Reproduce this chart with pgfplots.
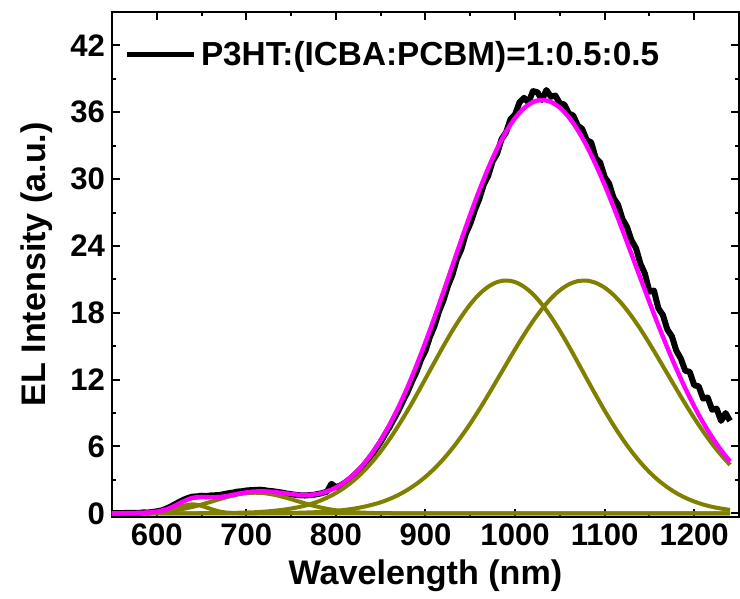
\documentclass[border=0pt]{standalone}
\usepackage{fontspec}
\setmainfont{Liberation Sans}
\usepackage{pgfplots}
\pgfplotsset{compat=1.18}
\definecolor{fitolive}{HTML}{808000}
\definecolor{fitpink}{HTML}{FF00FF}

\begin{document}
\begin{tikzpicture}
\begin{axis}[
    width=312.5pt, height=251.5pt, scale only axis,
    xmin=550, xmax=1250, ymin=-0.3, ymax=45,
    xtick={600,700,...,1200}, ytick={0,6,...,42},
    minor x tick num=1, minor y tick num=1,
    tick align=inside, major tick length=4pt, minor tick length=2pt,
    axis line style={line width=1pt},
    every tick/.style={line width=1pt, black},
    tick label style={font=\fontsize{15.5}{18}\selectfont\bfseries},
    /pgf/number format/assume math mode=true,
    /pgf/number format/1000 sep={},
    xlabel={Wavelength (nm)},
    ylabel={EL Intensity (a.u.)},
    label style={font=\fontsize{17}{20}\selectfont\bfseries},
    every axis y label/.style={at={(rel axis cs:0,0.5)}, xshift=-37.5pt,
        rotate=90, anchor=center, font=\fontsize{17}{20}\selectfont\bfseries},
    legend style={at={(0.016,0.955)}, anchor=north west, draw=none, fill=none,
        font=\fontsize{16.6}{19}\selectfont\bfseries, inner sep=1pt},
    legend cell align=left,
    legend image code/.code={\draw[#1, line width=2.6pt] (0cm,0cm) -- (1.18cm,0cm);},
]
% measured EL spectrum
\addplot[black, line width=3pt, line join=round] coordinates {
(550,0.02) (555,0.03) (560,0.01) (565,0.04) (570,0.03) (575,0.05) (580,0.04) (585,0.08)
(590,0.07) (595,0.12) (600,0.18) (605,0.25) (610,0.40) (615,0.58) (620,0.80) (625,1.02)
(630,1.22) (635,1.38) (640,1.50) (645,1.52) (650,1.58) (655,1.55) (660,1.60) (665,1.62)
(670,1.65) (675,1.72) (680,1.80) (685,1.86) (690,1.95) (695,1.98) (700,2.05) (705,2.08)
(710,2.10) (715,2.12) (720,2.08) (725,2.02) (730,1.98) (735,1.92) (740,1.86) (745,1.78)
(750,1.72) (755,1.66) (760,1.62) (765,1.60) (770,1.63) (775,1.66) (780,1.74) (785,1.82)
(790,1.95) (795,2.65) (800,2.35) (805,2.50) (810,2.75) (815,3.05) (820,3.40) (825,3.80)
(830,4.20) (835,4.70) (840,5.20) (845,5.80) (850,6.40) (855,7.10) (860,7.75) (865,8.50)
(870,9.25) (875,10.10) (880,10.90) (885,11.85) (890,12.70) (895,13.80) (900,14.60) (905,15.85)
(910,16.80) (915,18.10) (920,19.10) (925,20.40) (930,21.40) (935,22.80) (940,23.70) (945,25.10)
(950,26.00) (955,27.20) (960,28.20) (965,29.50) (970,30.30) (975,31.60) (980,32.30) (985,33.60)
(990,34.20) (995,35.40) (1000,35.80) (1005,36.90) (1010,37.30) (1015,36.90) (1020,37.90) (1025,37.80)
(1030,37.10) (1035,38.00) (1040,37.40) (1045,37.50) (1050,36.80) (1055,36.70) (1060,35.90) (1065,35.70)
(1070,34.80) (1075,34.50) (1080,33.50) (1085,33.30) (1090,31.90) (1095,31.50) (1100,30.20) (1105,29.60)
(1110,28.30) (1115,27.70) (1120,26.40) (1125,25.70) (1130,24.50) (1135,23.80) (1140,22.40) (1145,21.50)
(1150,19.90) (1155,20.00) (1160,18.40) (1165,17.80) (1170,16.50) (1175,15.90) (1180,14.60) (1185,13.90)
(1190,12.80) (1195,12.70) (1200,11.50) (1205,11.40) (1210,10.30) (1215,10.40) (1220,9.30) (1225,9.40)
(1230,8.30) (1235,9.00) (1240,8.30)
};
\addlegendentry{P3HT:(ICBA:PCBM)=1:0.5:0.5}

% Gaussian components
\addplot[fitolive, line width=2pt, smooth, forget plot] coordinates {
(550,0) (580,0.002) (590,0.011) (595,0.024) (600,0.05) (605,0.096) (610,0.169) (615,0.271)
(620,0.40) (625,0.542) (630,0.673) (635,0.766) (640,0.80) (645,0.766) (650,0.673) (655,0.542)
(660,0.40) (665,0.271) (670,0.169) (675,0.096) (680,0.05) (685,0.024) (690,0.011) (700,0.002)
(750,0) (1240,0)
};
\addplot[fitolive, line width=2pt, smooth, forget plot] coordinates {
(550,0.004) (560,0.009) (570,0.018) (580,0.034) (590,0.062) (600,0.106) (610,0.174) (620,0.273)
(630,0.408) (640,0.581) (650,0.790) (660,1.025) (670,1.268) (680,1.496) (690,1.683) (700,1.807)
(710,1.85) (720,1.807) (730,1.683) (740,1.496) (750,1.268) (760,1.025) (770,0.790) (780,0.581)
(790,0.408) (800,0.273) (810,0.174) (820,0.106) (830,0.062) (840,0.034) (850,0.018) (860,0.009)
(870,0.004) (900,0) (1240,0)
};
\addplot[fitolive, line width=2pt, smooth, forget plot] coordinates {
(550,0) (600,0) (650,0.008) (680,0.03) (690,0.05) (700,0.07) (710,0.10) (720,0.15)
(730,0.22) (740,0.31) (750,0.43) (760,0.585) (770,0.79) (780,1.06) (790,1.40) (800,1.82)
(810,2.34) (820,2.96) (830,3.70) (840,4.57) (850,5.56) (860,6.67) (870,7.90) (880,9.22)
(890,10.63) (900,12.09) (910,13.56) (920,15.01) (930,16.39) (940,17.65) (950,18.76) (960,19.67)
(970,20.34) (980,20.76) (990,20.90) (1000,20.76) (1010,20.34) (1020,19.67) (1030,18.76) (1040,17.65)
(1050,16.39) (1060,15.01) (1070,13.56) (1080,12.09) (1090,10.63) (1100,9.22) (1110,7.90) (1120,6.67)
(1130,5.56) (1140,4.57) (1150,3.70) (1160,2.96) (1170,2.34) (1180,1.82) (1190,1.40) (1200,1.06)
(1210,0.79) (1220,0.585) (1230,0.43) (1240,0.31)
};
\addplot[fitolive, line width=2pt, smooth, forget plot] coordinates {
(550,0) (650,0) (700,0.005) (720,0.011) (740,0.025) (760,0.054) (780,0.11) (790,0.16)
(800,0.22) (810,0.31) (820,0.42) (830,0.57) (840,0.76) (850,0.99) (860,1.29) (870,1.66)
(880,2.11) (890,2.65) (900,3.28) (910,4.02) (920,4.87) (930,5.83) (940,6.90) (950,8.06)
(960,9.31) (970,10.63) (980,11.99) (990,13.36) (1000,14.72) (1010,16.03) (1020,17.25) (1030,18.34)
(1040,19.28) (1050,20.02) (1060,20.55) (1070,20.84) (1080,20.89) (1090,20.69) (1100,20.26) (1110,19.60)
(1120,18.74) (1130,17.70) (1140,16.53) (1150,15.25) (1160,13.91) (1170,12.54) (1180,11.17) (1190,9.83)
(1200,8.55) (1210,7.35) (1220,6.24) (1230,5.24) (1240,4.35)
};
% cumulative fit
\addplot[fitpink, line width=2.2pt, smooth, forget plot] coordinates {
(550,0.00) (560,0.01) (570,0.02) (580,0.04) (590,0.07) (600,0.16) (610,0.34) (620,0.67)
(630,1.08) (640,1.39) (650,1.47) (660,1.44) (670,1.46) (680,1.58) (690,1.74) (700,1.88)
(710,1.96) (720,1.97) (730,1.92) (740,1.83) (750,1.73) (760,1.66) (770,1.66) (780,1.75)
(790,1.97) (800,2.31) (810,2.82) (820,3.49) (830,4.33) (840,5.36) (850,6.57) (860,7.97)
(870,9.56) (880,11.33) (890,13.28) (900,15.37) (910,17.58) (920,19.88) (930,22.22) (940,24.55)
(950,26.82) (960,28.98) (970,30.97) (980,32.75) (990,34.26) (1000,35.48) (1010,36.37) (1020,36.92)
(1030,37.10) (1040,36.93) (1050,36.41) (1060,35.56) (1070,34.40) (1080,32.98) (1090,31.32) (1100,29.48)
(1110,27.50) (1120,25.41) (1130,23.26) (1140,21.10) (1150,18.95) (1160,16.87) (1170,14.88) (1180,12.99)
(1190,11.23) (1200,9.61) (1210,8.14) (1220,6.83) (1230,5.67) (1240,4.66)
};
\end{axis}
% keep the empty margins left of the y label and above the frame, as in the reference
\path ([xshift=-55.8pt]current axis.south west) circle (0pt);
\path ([yshift=6pt]current axis.north west) circle (0pt);
\end{tikzpicture}
\end{document}
